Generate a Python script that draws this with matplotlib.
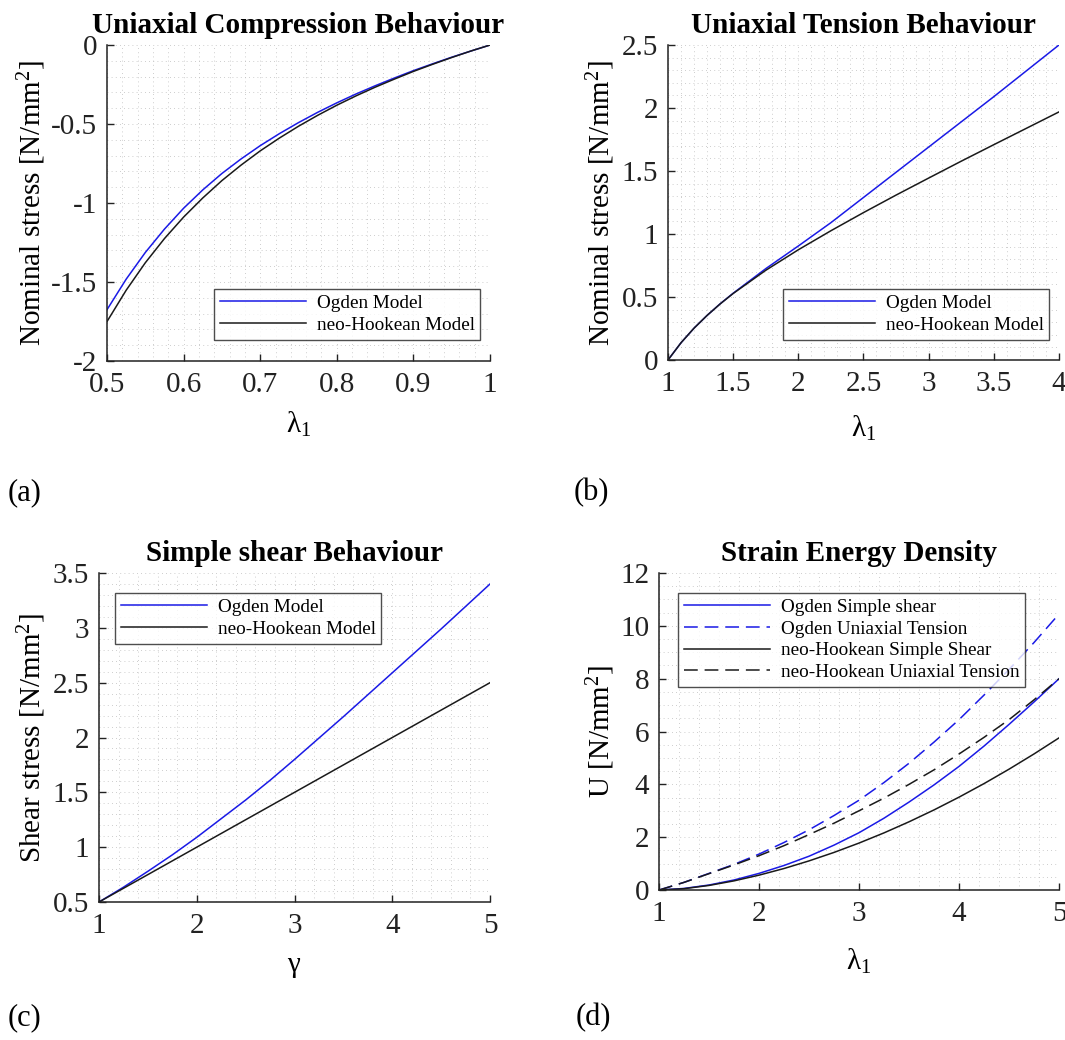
import matplotlib
matplotlib.use("Agg")
import matplotlib.pyplot as plt
from matplotlib.ticker import MultipleLocator

plt.rcParams['font.family'] = ['Liberation Serif', 'DejaVu Serif']
plt.rcParams['mathtext.fontset'] = 'custom'
plt.rcParams['mathtext.rm'] = 'Liberation Serif'
plt.rcParams['mathtext.it'] = 'Liberation Serif:italic'

# (a) uniaxial compression
lam_c = [0.5, 0.525, 0.55, 0.575, 0.6, 0.625, 0.65, 0.675, 0.7, 0.725, 0.75,
         0.775, 0.8, 0.825, 0.85, 0.875, 0.9, 0.925, 0.95, 0.975, 1.0]
ogden_c = [-1.675, -1.482, -1.313, -1.165, -1.033, -0.917, -0.813, -0.721, -0.637, -0.561, -0.491,
           -0.426, -0.366, -0.310, -0.258, -0.209, -0.162, -0.119, -0.077, -0.038, 0.0]
neo_c = [-1.75, -1.552, -1.378, -1.225, -1.089, -0.968, -0.858, -0.760, -0.670, -0.589, -0.514,
         -0.445, -0.381, -0.322, -0.267, -0.216, -0.167, -0.122, -0.079, -0.038, 0.0]

# (b) uniaxial tension
lam_t = [1.0, 1.1, 1.2, 1.3, 1.4, 1.5, 1.75, 2.0, 2.25, 2.5, 2.75, 3.0, 3.25, 3.5, 3.75, 4.0]
ogden_t = [0.0, 0.137, 0.253, 0.354, 0.446, 0.530, 0.725, 0.905, 1.09, 1.29, 1.49, 1.69, 1.89, 2.09, 2.295, 2.5]
neo_t = [0.0, 0.137, 0.253, 0.354, 0.445, 0.528, 0.712, 0.875, 1.026, 1.17, 1.309, 1.444, 1.578, 1.709, 1.839, 1.969]

# (c) simple shear
gam = [1.0, 1.25, 1.5, 1.75, 2.0, 2.25, 2.5, 2.75, 3.0, 3.25, 3.5, 3.75, 4.0, 4.25, 4.5, 4.75, 5.0]
ogden_s = [0.5, 0.635, 0.78, 0.93, 1.09, 1.26, 1.43, 1.61, 1.80, 1.995, 2.19, 2.39, 2.59, 2.79, 2.99, 3.195, 3.40]
neo_s = [0.5, 0.625, 0.75, 0.875, 1.0, 1.125, 1.25, 1.375, 1.5, 1.625, 1.75, 1.875, 2.0, 2.125, 2.25, 2.375, 2.5]

# (d) strain energy density
lam_u = [1.0, 1.25, 1.5, 1.75, 2.0, 2.25, 2.5, 2.75, 3.0, 3.25, 3.5, 3.75, 4.0, 4.25, 4.5, 4.75, 5.0]
U_ogden_shear = [0.0, 0.06, 0.19, 0.38, 0.63, 0.93, 1.28, 1.70, 2.17, 2.72, 3.33, 3.98, 4.68, 5.45, 6.27, 7.12, 8.0]
U_ogden_tens = [0.0, 0.29, 0.63, 0.97, 1.36, 1.80, 2.28, 2.82, 3.40, 4.07, 4.80, 5.60, 6.45, 7.38, 8.35, 9.37, 10.45]
U_neo_shear = [0.0, 0.051, 0.174, 0.347, 0.563, 0.815, 1.103, 1.424, 1.778, 2.164, 2.583, 3.033, 3.516, 4.029, 4.575, 5.152, 5.76]
U_neo_tens = [0.0, 0.29, 0.62, 0.95, 1.30, 1.68, 2.10, 2.53, 3.0, 3.48, 4.0, 4.55, 5.15, 5.78, 6.45, 7.2, 8.0]

blue = '#1a1ae6'
black = '#1a1a1a'
FS = 21

fig = plt.figure(figsize=(10.65, 10.40), dpi=100)
axa = fig.add_axes([0.1005, 0.6529, 0.3596, 0.3038])
axb = fig.add_axes([0.6272, 0.6538, 0.3671, 0.3029])
axc = fig.add_axes([0.0930, 0.1327, 0.3671, 0.3163])
axd = fig.add_axes([0.6188, 0.1442, 0.3756, 0.3048])


def style(ax, xmaj, xmin, ymaj, ymin):
    ax.xaxis.set_major_locator(MultipleLocator(xmaj))
    ax.xaxis.set_minor_locator(MultipleLocator(xmin))
    ax.yaxis.set_major_locator(MultipleLocator(ymaj))
    ax.yaxis.set_minor_locator(MultipleLocator(ymin))
    ax.grid(True, which='both', color='#bdbdbd', linestyle=(0, (1, 4)), linewidth=0.6)
    ax.set_axisbelow(True)
    ax.spines['top'].set_visible(False)
    ax.spines['right'].set_visible(False)
    for s in ['left', 'bottom']:
        ax.spines[s].set_linewidth(1.1)
        ax.spines[s].set_color('#222222')
    ax.tick_params(which='major', direction='in', length=5, width=1.0,
                   labelsize=FS, colors='#222222')
    ax.tick_params(axis='x', which='major', pad=8)
    ax.tick_params(axis='y', which='major', pad=7)
    ax.tick_params(which='minor', length=0)


def legend(ax, anchor):
    lg = ax.legend(loc='upper left', bbox_to_anchor=anchor, bbox_transform=fig.transFigure,
                   fontsize=13.8, frameon=True, fancybox=False, handlelength=4.5,
                   handletextpad=0.55, labelspacing=0.22, borderpad=0.3, borderaxespad=0)
    lg.get_frame().set_edgecolor('#222222')
    lg.get_frame().set_linewidth(1.0)


def fmt(v, pos):
    return ('%g' % v)


# (a)
axa.plot(lam_c, ogden_c, color=blue, lw=1.1, label='Ogden Model')
axa.plot(lam_c, neo_c, color=black, lw=1.1, label='neo-Hookean Model')
axa.set_xlim(0.5, 1)
axa.set_ylim(-2, 0)
style(axa, 0.1, 0.02, 0.5, 0.1)
axa.set_title('Uniaxial Compression Behaviour', fontsize=FS, fontweight='bold', pad=9)
axa.set_ylabel(r'Nominal stress [N/mm$^2$]', fontsize=FS)
axa.set_xlabel(r'$\mathregular{\lambda_1}$', fontsize=FS)
axa.yaxis.set_label_coords(-0.154, 0.5)
axa.xaxis.set_label_coords(0.5, -0.155)
legend(axa, (214 / 1065, 1 - 289 / 1040))

# (b)
axb.plot(lam_t, ogden_t, color=blue, lw=1.1, label='Ogden Model')
axb.plot(lam_t, neo_t, color=black, lw=1.1, label='neo-Hookean Model')
axb.set_xlim(1, 4)
axb.set_ylim(0, 2.5)
style(axb, 0.5, 0.1, 0.5, 0.1)
axb.set_title('Uniaxial Tension Behaviour', fontsize=FS, fontweight='bold', pad=9)
axb.set_ylabel(r'Nominal stress [N/mm$^2$]', fontsize=FS)
axb.set_xlabel(r'$\mathregular{\lambda_1}$', fontsize=FS)
axb.yaxis.set_label_coords(-0.130, 0.5)
axb.xaxis.set_label_coords(0.5, -0.170)
legend(axb, (783 / 1065, 1 - 289 / 1040))

# (c)
axc.plot(gam, ogden_s, color=blue, lw=1.1, label='Ogden Model')
axc.plot(gam, neo_s, color=black, lw=1.1, label='neo-Hookean Model')
axc.set_xlim(1, 5)
axc.set_ylim(0.5, 3.5)
style(axc, 1, 0.2, 0.5, 0.1)
axc.set_title('Simple shear Behaviour', fontsize=FS, fontweight='bold', pad=9)
axc.set_ylabel(r'Shear stress [N/mm$^2$]', fontsize=FS)
axc.set_xlabel(r'$\mathregular{\gamma}$', fontsize=FS)
axc.yaxis.set_label_coords(-0.130, 0.5)
axc.xaxis.set_label_coords(0.5, -0.157)
legend(axc, (115 / 1065, 1 - 593 / 1040))

# (d)
axd.plot(lam_u, U_ogden_shear, color=blue, lw=1.1, label='Ogden Simple shear')
axd.plot(lam_u, U_ogden_tens, color=blue, lw=1.1, ls=(0, (9, 4.5)), label='Ogden Uniaxial Tension')
axd.plot(lam_u, U_neo_shear, color=black, lw=1.1, label='neo-Hookean Simple Shear')
axd.plot(lam_u, U_neo_tens, color=black, lw=1.1, ls=(0, (9, 4.5)), label='neo-Hookean Uniaxial Tension')
axd.set_xlim(1, 5)
axd.set_ylim(0, 12)
style(axd, 1, 0.2, 2, 0.5)
axd.set_title('Strain Energy Density', fontsize=FS, fontweight='bold', pad=9)
axd.set_ylabel(r'U [N/mm$^2$]', fontsize=FS)
axd.set_xlabel(r'$\mathregular{\lambda_1}$', fontsize=FS)
axd.yaxis.set_label_coords(-0.105, 0.5)
axd.xaxis.set_label_coords(0.5, -0.178)
legend(axd, (678 / 1065, 1 - 593 / 1040))

for ax in [axa, axb, axc, axd]:
    ax.xaxis.set_major_formatter(fmt)
    ax.yaxis.set_major_formatter(fmt)

fig.text(8 / 1065, 1 - 493 / 1040, '(a)', fontsize=22, va='center', ha='left')
fig.text(574 / 1065, 1 - 493 / 1040, '(b)', fontsize=22, va='center', ha='left')
fig.text(8 / 1065, 1 - 1018 / 1040, '(c)', fontsize=22, va='center', ha='left')
fig.text(576 / 1065, 1 - 1018 / 1040, '(d)', fontsize=22, va='center', ha='left')

fig.savefig('out.png', dpi=100)
